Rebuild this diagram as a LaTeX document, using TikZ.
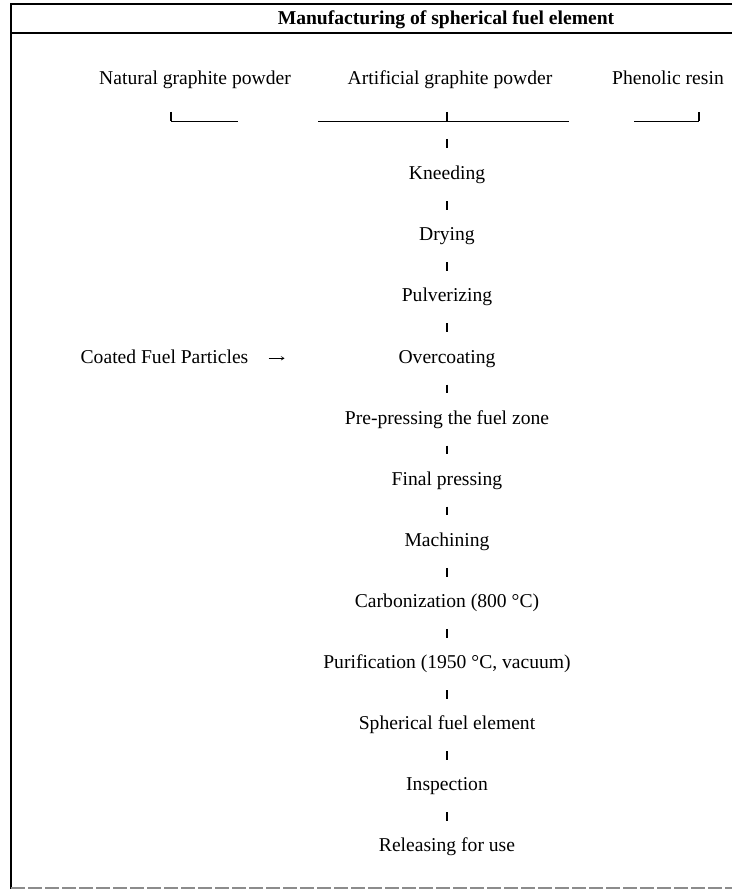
\documentclass[tikz,border=0pt]{standalone}
\usepackage{fontspec}
\setmainfont{Liberation Serif}
\usetikzlibrary{arrows.meta}
\tikzset{
  lbl/.style={inner sep=0pt, font=\fontsize{19.6}{22}\selectfont, text height=13.5pt, text depth=4pt},
  ttl/.style={inner sep=0pt, font=\fontsize{19.6}{22}\selectfont\bfseries},
  tick/.style={line width=1.4pt, shorten <=17.25pt, shorten >=17.25pt},
  brk/.style={line width=0.9pt},
  bbar/.style={line width=1.4pt},
  frame/.style={line width=2.2pt},
  arr/.style={line width=0.6pt, -{To[length=3.5pt,width=4pt]}}
}
\begin{document}
\begin{tikzpicture}[x=1pt,y=-1pt]
\useasboundingbox (0,0) rectangle (732,890);
% frame
\draw[frame] (732,4) -- (11,4) -- (11,889);
\draw[line width=1.8pt] (11,33) -- (732,33);
\draw[line width=1.4pt, black!45, dash pattern=on 14pt off 3pt] (11,888) -- (732,888);
% title
\node[ttl] (title) at (446,20) {Manufacturing of spherical fuel element};
% sources
\node[lbl] (natural) at (195,80) {Natural graphite powder};
\node[lbl] (artificial) at (450,80) {Artificial graphite powder};
\node[lbl] (phenolic) at (668,80) {Phenolic resin};
% bracket
\coordinate (bl) at (171,121);
\coordinate (bm) at (447,121);
\coordinate (br) at (699,121);
\draw[brk] (bl) -- (238,121);
\draw[bbar] ([yshift=9pt]bl) -- (bl);
\draw[brk] (318,121) -- (569,121);
\draw[bbar] ([yshift=9pt]bm) -- (bm);
\draw[brk] (634,121) -- (br);
\draw[bbar] (br) -- ([yshift=9pt]br);
% flow
\node[lbl] (kneed) at (447,175) {Kneeding};
\node[lbl] (dry) at (447,236.1) {Drying};
\node[lbl] (pulv) at (447,297.2) {Pulverizing};
\node[lbl] (over) at (447,358.3) {Overcoating};
\node[lbl] (prepress) at (447,419.4) {Pre-pressing the fuel zone};
\node[lbl] (final) at (447,480.5) {Final pressing};
\node[lbl] (mach) at (447,541.6) {Machining};
\node[lbl] (carb) at (447,602.7) {Carbonization (800 °C)};
\node[lbl] (puri) at (447,663.8) {Purification (1950 °C, vacuum)};
\node[lbl] (sphere) at (447,724.9) {Spherical fuel element};
\node[lbl] (insp) at (447,786) {Inspection};
\node[lbl] (release) at (447,847.1) {Releasing for use};
\node[lbl] (coated) at (164.5,358.3) {Coated Fuel Particles};
% connectors
\draw[tick, shorten <=18pt, shorten >=18pt] (bm) -- (kneed.north);
\draw[tick] (kneed) -- (dry);
\draw[tick] (dry) -- (pulv);
\draw[tick] (pulv) -- (over);
\draw[tick] (over) -- (prepress);
\draw[tick] (prepress) -- (final);
\draw[tick] (final) -- (mach);
\draw[tick] (mach) -- (carb);
\draw[tick] (carb) -- (puri);
\draw[tick] (puri) -- (sphere);
\draw[tick] (sphere) -- (insp);
\draw[tick] (insp) -- (release);
\draw[arr, shorten <=20pt, shorten >=114pt] (coated.east) -- (over.west);
\end{tikzpicture}
\end{document}
